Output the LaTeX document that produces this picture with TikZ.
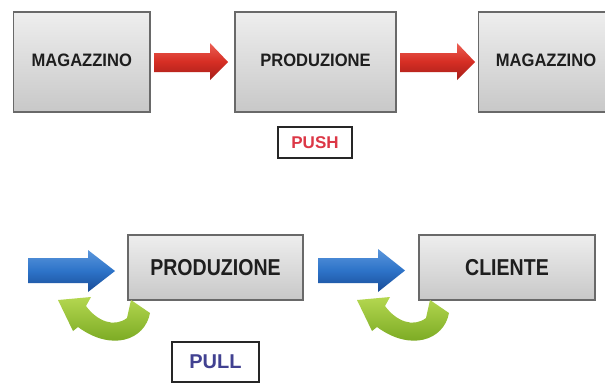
\documentclass[tikz,border=0pt]{standalone}
\usepackage{fontspec}
\setmainfont{Liberation Sans}
\usepackage{graphicx}
\usetikzlibrary{shadows}
\definecolor{boxtop}{RGB}{238,238,238}
\definecolor{boxbot}{RGB}{200,200,200}
\definecolor{boxline}{RGB}{105,105,105}
\definecolor{txt}{RGB}{30,30,30}
\definecolor{redtop}{RGB}{236,96,84}
\definecolor{redmid}{RGB}{214,46,36}
\definecolor{redbot}{RGB}{165,30,25}
\definecolor{bluetop}{RGB}{90,150,220}
\definecolor{bluemid}{RGB}{45,115,200}
\definecolor{bluebot}{RGB}{25,75,150}
\definecolor{greentop}{RGB}{180,215,80}
\definecolor{greenbot}{RGB}{110,160,25}
\definecolor{pushred}{RGB}{220,55,70}
\definecolor{pullblue}{RGB}{65,65,145}
\tikzset{
  procbox/.style={draw=boxline, line width=1.1pt, top color=boxtop, bottom color=boxbot,
    drop shadow={shadow xshift=1.2pt, shadow yshift=-1.2pt, opacity=0.35},
    inner sep=0pt, text=txt, font=\bfseries},
  tagbox/.style={draw=black!85, line width=1.6pt, fill=white, inner sep=0pt, font=\bfseries,
    drop shadow={shadow xshift=1pt, shadow yshift=-1pt, opacity=0.25}},
  redarrow/.style={top color=redtop, bottom color=redbot, middle color=redmid, draw=none},
  bluearrow/.style={top color=bluetop, bottom color=bluebot, middle color=bluemid, draw=none},
  greenarrow/.style={top color=greentop, bottom color=greenbot, draw=none}
}
\newcommand{\toptext}[1]{\raisebox{3pt}{\fontsize{18}{18}\selectfont\scalebox{0.92}[1]{#1}}}
\newcommand{\bottext}[1]{\raisebox{0pt}{\fontsize{23}{23}\selectfont\scalebox{0.85}[1]{#1}}}
\begin{document}
\begin{tikzpicture}[x=1pt,y=-1pt]
\useasboundingbox (0,0) rectangle (605,389);
\fill[white] (0,0) rectangle (605,389);
\clip (0,0) rectangle (605,389);

% top row
\node[procbox, minimum width=136.5pt, minimum height=100pt] (mag1) at (81.75,62) {\toptext{MAGAZZINO}};
\node[procbox, minimum width=161pt, minimum height=100pt] (prod1) at (315.5,62) {\toptext{PRODUZIONE}};
\node[procbox, minimum width=137pt, minimum height=100pt, anchor=west] (mag2) at (478,62) {};
\node[text=txt, font=\bfseries] (mag2t) at (546,62) {\toptext{MAGAZZINO}};

\shade[redarrow] (154,53) -- (210,53) -- (210,43) -- (228,62) -- (210,80) -- (210,72) -- (154,72) -- cycle;
\shade[redarrow] (400,53) -- (457,53) -- (457,43) -- (475,62) -- (457,80) -- (457,72) -- (400,72) -- cycle;

\node[tagbox, minimum width=74pt, minimum height=31pt, text=pushred] (push) at (315,142.5)
  {\fontsize{17}{17}\selectfont PUSH};

% bottom row
\node[procbox, minimum width=175pt, minimum height=65pt] (prod2) at (215.5,267.5) {\bottext{PRODUZIONE}};
\node[procbox, minimum width=176pt, minimum height=65pt] (cli) at (507,267.5) {\bottext{CLIENTE}};

\shade[bluearrow] (28,258) -- (88,258) -- (88,250) -- (115,271) -- (88,292) -- (88,283) -- (28,283) -- cycle;
\shade[bluearrow] (318,258) -- (378,258) -- (378,249) -- (405,270.5) -- (378,292) -- (378,283) -- (318,283) -- cycle;

\shade[greenarrow] (58,300) -- (91,297) -- (86,306) .. controls (97,321) and (114,328) .. (127,318)
  -- (131,300) -- (150,313) .. controls (145,340) and (112,352) .. (78,327) -- (73,331) -- cycle;
\begin{scope}[xshift=299pt]
\shade[greenarrow] (58,300) -- (91,297) -- (86,306) .. controls (97,321) and (114,328) .. (127,318)
  -- (131,300) -- (150,313) .. controls (145,340) and (112,352) .. (78,327) -- (73,331) -- cycle;
\end{scope}

\node[tagbox, minimum width=87pt, minimum height=40pt, text=pullblue] (pull) at (215.5,362)
  {\fontsize{20}{20}\selectfont PULL};
\end{tikzpicture}
\end{document}
